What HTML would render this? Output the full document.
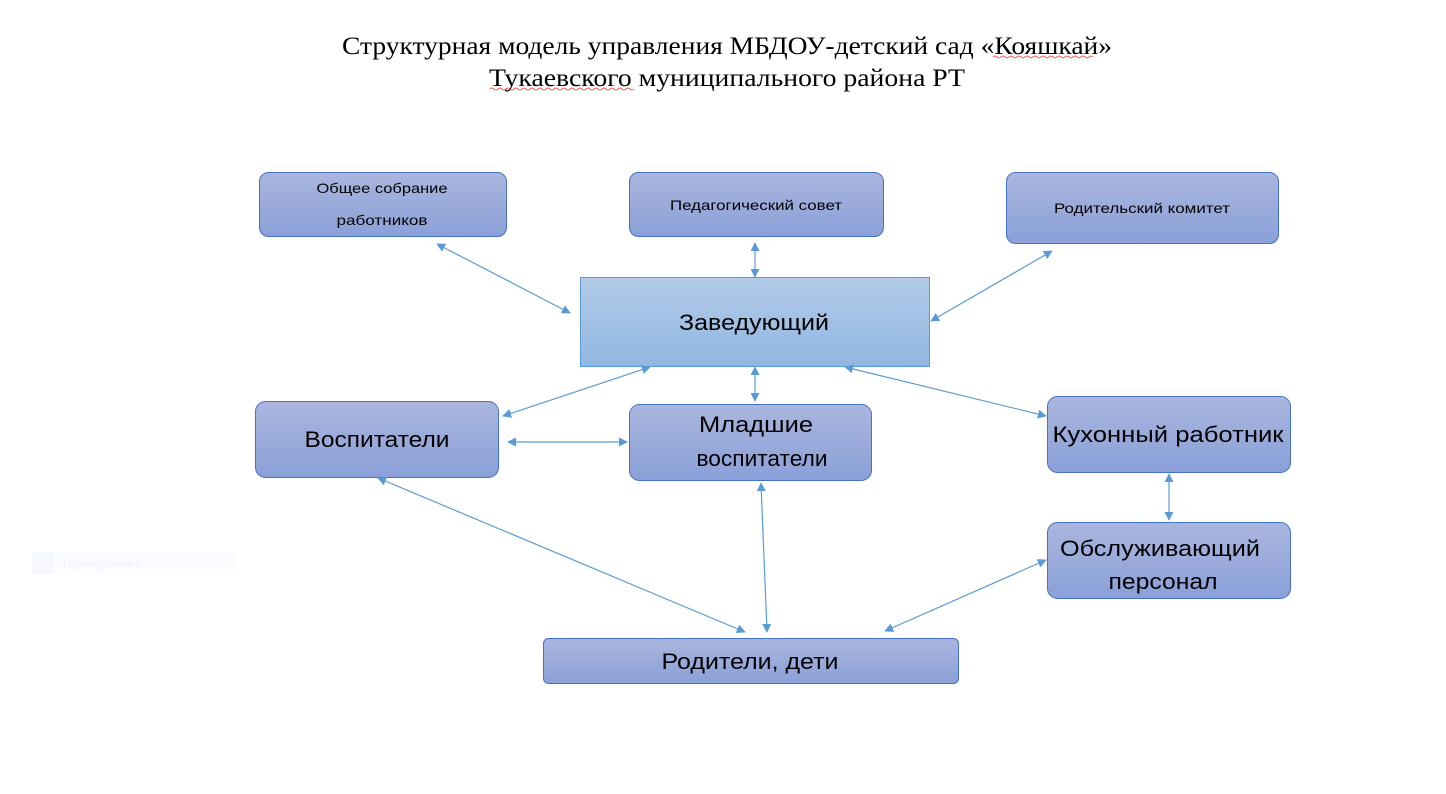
<!DOCTYPE html>
<html><head><meta charset="utf-8"><style>html,body{margin:0;padding:0;background:#fff}svg{display:block}</style></head>
<body>
<svg width="1446" height="794" viewBox="0 0 1446 794" xmlns="http://www.w3.org/2000/svg">
<defs>
<linearGradient id="g" x1="0" y1="0" x2="0" y2="1"><stop offset="0" stop-color="#aab6de"/><stop offset="1" stop-color="#8aa0d8"/></linearGradient>
<linearGradient id="g2" x1="0" y1="0" x2="0" y2="1"><stop offset="0" stop-color="#b2cbe8"/><stop offset="1" stop-color="#90b7e1"/></linearGradient>
<marker id="a" viewBox="0 0 10 10" refX="9" refY="5" markerWidth="9" markerHeight="9" orient="auto-start-reverse" markerUnits="userSpaceOnUse"><path d="M0,0L10,5L0,10z" fill="#5b9bd5"/></marker>
</defs>
<g font-family="'Liberation Serif',serif" font-size="25" fill="#000" text-anchor="middle">
<text x="727" y="54" textLength="770" lengthAdjust="spacingAndGlyphs">Структурная модель управления МБДОУ-детский сад «Кояшкай»</text>
<text x="727" y="86" textLength="476" lengthAdjust="spacingAndGlyphs">Тукаевского муниципального района РТ</text>
</g>
<path d="M993,57 q2,-2 4,0 t4,0 t4,0 t4,0 t4,0 t4,0 t4,0 t4,0 t4,0 t4,0 t4,0 t4,0 t4,0 t4,0 t4,0 t4,0 t4,0 t4,0 t4,0 t4,0 t4,0 t4,0 t4,0 t4,0 t4,0" stroke="#e33" fill="none" stroke-width="0.8"/>
<path d="M490,89 q2,-2 4,0 t4,0 t4,0 t4,0 t4,0 t4,0 t4,0 t4,0 t4,0 t4,0 t4,0 t4,0 t4,0 t4,0 t4,0 t4,0 t4,0 t4,0 t4,0 t4,0 t4,0 t4,0 t4,0 t4,0 t4,0 t4,0 t4,0 t4,0 t4,0 t4,0 t4,0 t4,0 t4,0 t4,0 t4,0 t4,0" stroke="#e33" fill="none" stroke-width="0.8"/>
<rect x="32" y="552" width="205" height="22" fill="#fbfcff"/>
<rect x="33" y="552" width="21" height="22" fill="#f5f8fe"/>
<text x="63" y="567" font-family="'Liberation Sans',sans-serif" font-size="11" fill="#eef0f6">Прямоугольник</text>
<g stroke="#4472c4" stroke-width="1" fill="url(#g)">
<rect x="259.5" y="172.5" width="247" height="64" rx="9"/>
<rect x="629.5" y="172.5" width="254" height="64" rx="9"/>
<rect x="1006.5" y="172.5" width="272" height="71" rx="9"/>
<rect x="255.5" y="401.5" width="243" height="76" rx="10"/>
<rect x="629.5" y="404.5" width="242" height="76" rx="10"/>
<rect x="1047.5" y="396.5" width="243" height="76" rx="10"/>
<rect x="1047.5" y="522.5" width="243" height="76" rx="10"/>
<rect x="543.5" y="638.5" width="415" height="45" rx="5"/>
</g>
<rect x="580.5" y="277.5" width="349" height="89" fill="url(#g2)" stroke="#5b9bd5"/>
<g stroke="#5b9bd5" stroke-width="1.2" marker-start="url(#a)" marker-end="url(#a)">
<line x1="437" y1="244" x2="570" y2="313"/>
<line x1="755" y1="243" x2="755" y2="277"/>
<line x1="1052" y1="251" x2="931" y2="321"/>
<line x1="650" y1="367" x2="503" y2="416"/>
<line x1="755" y1="367" x2="755" y2="401"/>
<line x1="845" y1="367" x2="1046" y2="416"/>
<line x1="508" y1="442" x2="627" y2="442"/>
<line x1="1169" y1="474" x2="1169" y2="520"/>
<line x1="378" y1="478" x2="745" y2="632"/>
<line x1="761" y1="483" x2="767" y2="632"/>
<line x1="885" y1="631" x2="1046" y2="560"/>
</g>
<g font-family="'Liberation Sans',sans-serif" fill="#000" text-anchor="middle">
<g font-size="14">
<text x="382" y="193" textLength="131" lengthAdjust="spacingAndGlyphs">Общее собрание</text>
<text x="382" y="225" textLength="91" lengthAdjust="spacingAndGlyphs">работников</text>
<text x="756" y="210" textLength="172" lengthAdjust="spacingAndGlyphs">Педагогический совет</text>
<text x="1142" y="213" textLength="176" lengthAdjust="spacingAndGlyphs">Родительский комитет</text>
</g>
<g font-size="22">
<text x="754" y="330" textLength="150" lengthAdjust="spacingAndGlyphs">Заведующий</text>
<text x="377" y="447" textLength="145" lengthAdjust="spacingAndGlyphs">Воспитатели</text>
<text x="756" y="432" textLength="114" lengthAdjust="spacingAndGlyphs">Младшие</text>
<text x="762" y="466" textLength="131" lengthAdjust="spacingAndGlyphs">воспитатели</text>
<text x="1168" y="442" textLength="231" lengthAdjust="spacingAndGlyphs">Кухонный работник</text>
<text x="1160" y="556" textLength="200" lengthAdjust="spacingAndGlyphs">Обслуживающий</text>
<text x="1163" y="589" textLength="109" lengthAdjust="spacingAndGlyphs">персонал</text>
<text x="750" y="669" textLength="177" lengthAdjust="spacingAndGlyphs">Родители, дети</text>
</g>
</g>
</svg>
</body></html>
